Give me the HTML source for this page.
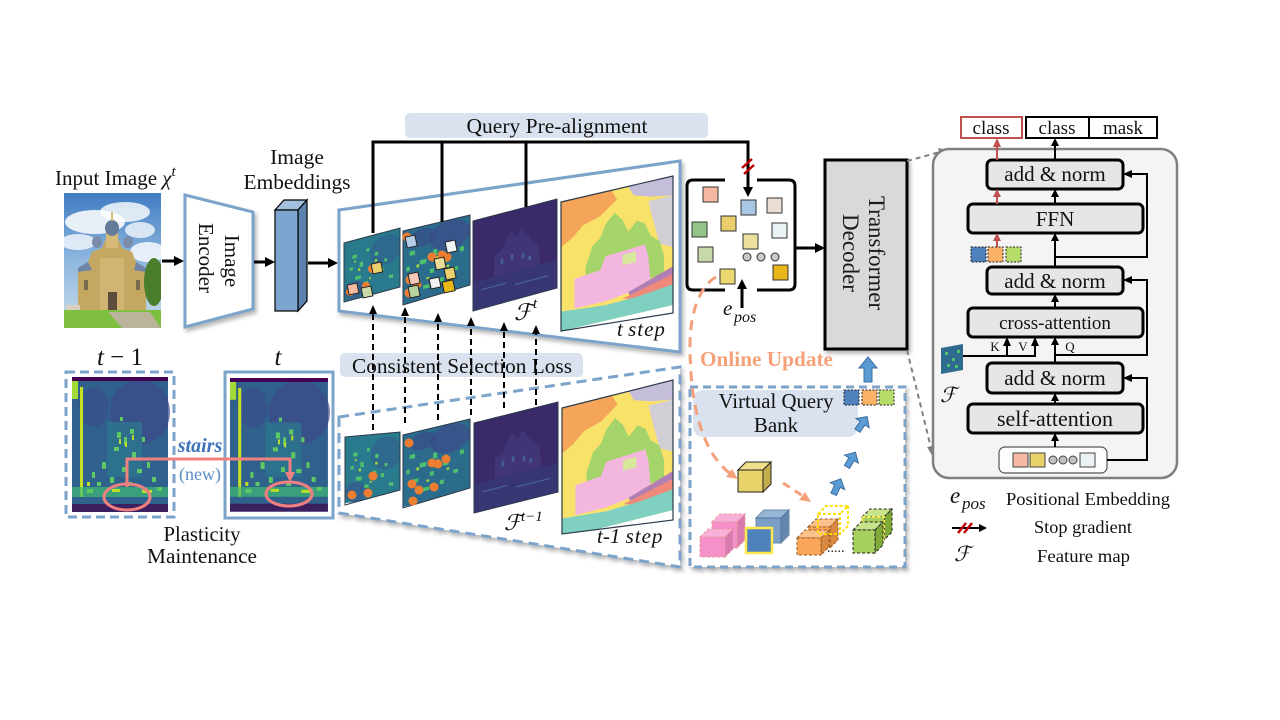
<!DOCTYPE html>
<html><head><meta charset="utf-8">
<style>
html,body{margin:0;padding:0;background:#fff;}
svg{display:block;}
text{font-family:"Liberation Serif","DejaVu Serif",serif;fill:#111;}
.it{font-style:italic;}
</style></head><body>
<svg width="1280" height="720" viewBox="0 0 1280 720" xmlns="http://www.w3.org/2000/svg">
<defs>
 <filter id="sh" x="-10%" y="-10%" width="130%" height="130%"><feDropShadow dx="2" dy="3" stdDeviation="2" flood-color="#000" flood-opacity="0.3"/></filter>
 <linearGradient id="sky" x1="0" y1="0" x2="0" y2="1">
  <stop offset="0" stop-color="#3f7cc2"/><stop offset="0.5" stop-color="#8fb7df"/><stop offset="1" stop-color="#c9dcea"/>
 </linearGradient>
 <g id="hmap">
  <rect width="96" height="135" fill="#30608c"/>
  <ellipse cx="68" cy="35" rx="30" ry="32" fill="#3d4a8a" opacity="0.7"/>
  <ellipse cx="22" cy="30" rx="15" ry="20" fill="#3a4d8b" opacity="0.6"/>
  <rect x="35" y="45" width="35" height="55" fill="#2b7a8e" opacity="0.7"/>
  <rect x="0" y="0" width="96" height="4" fill="#440154"/>
  <rect x="0" y="127" width="96" height="8" fill="#3c1f5e"/>
  <rect x="0" y="4" width="6" height="18" fill="#a2da37"/>
  <rect x="8" y="10" width="3" height="110" fill="#c5e021"/>
  <rect x="0" y="110" width="96" height="10" fill="#3fbc73" opacity="0.7"/>
  <g fill="#5ec962">
   <rect x="45" y="55" width="4" height="6"/><rect x="52" y="60" width="3" height="8"/><rect x="58" y="52" width="4" height="5"/>
   <rect x="42" y="70" width="5" height="4"/><rect x="60" y="75" width="4" height="6"/><rect x="30" y="85" width="4" height="7"/>
   <rect x="20" y="95" width="3" height="6"/><rect x="50" y="90" width="4" height="5"/><rect x="65" y="92" width="5" height="4"/>
   <rect x="75" y="85" width="3" height="6"/><rect x="38" y="100" width="4" height="6"/><rect x="55" y="105" width="5" height="4"/>
   <rect x="80" y="100" width="4" height="5"/><rect x="25" y="105" width="4" height="4"/><rect x="70" y="60" width="3" height="5"/>
   <rect x="48" y="40" width="3" height="4"/><rect x="85" y="110" width="5" height="4"/><rect x="15" y="112" width="6" height="4"/>
  </g>
  <g fill="#b8de29">
   <rect x="47" y="62" width="2" height="5"/><rect x="53" y="65" width="2" height="5"/><rect x="60" y="58" width="2" height="5"/>
   <rect x="40" y="112" width="8" height="3"/><rect x="70" y="113" width="10" height="3"/><rect x="15" y="105" width="3" height="4"/>
  </g>
 </g>
 <g id="mapA">
  <rect width="100" height="100" fill="#2a7a8e"/>
  <ellipse cx="75" cy="30" rx="28" ry="25" fill="#30648d" opacity=".8"/>
  <ellipse cx="20" cy="85" rx="20" ry="15" fill="#3a528b" opacity=".6"/>
  <g fill="#4fc26b">
   <rect x="15" y="25" width="8" height="6"/><rect x="28" y="40" width="6" height="8"/><rect x="50" y="55" width="7" height="5"/>
   <rect x="20" y="62" width="10" height="6"/><rect x="65" y="60" width="6" height="6"/><rect x="40" y="20" width="5" height="5"/>
   <rect x="80" y="75" width="8" height="5"/><rect x="10" y="45" width="6" height="5"/><rect x="55" y="30" width="6" height="6"/>
   <rect x="35" y="75" width="8" height="5"/><rect x="72" y="45" width="5" height="5"/>
  </g>
  <g fill="#b5de2b"><rect x="25" y="50" width="4" height="4"/><rect x="55" y="42" width="4" height="4"/><rect x="45" y="70" width="3" height="3"/><rect x="18" y="35" width="3" height="3"/></g>
 </g>
 <g id="mapB">
  <rect width="100" height="100" fill="#2b6c8d"/>
  <ellipse cx="70" cy="20" rx="30" ry="20" fill="#39508a" opacity=".8"/>
  <ellipse cx="30" cy="15" rx="20" ry="12" fill="#3a4a89" opacity=".6"/>
  <g fill="#4cc06c">
   <rect x="10" y="30" width="8" height="6"/><rect x="25" y="45" width="10" height="6"/><rect x="45" y="35" width="6" height="8"/>
   <rect x="60" y="50" width="8" height="6"/><rect x="15" y="65" width="8" height="5"/><rect x="40" y="60" width="6" height="6"/>
   <rect x="75" y="65" width="7" height="5"/><rect x="30" y="80" width="9" height="5"/><rect x="55" y="75" width="6" height="6"/>
   <rect x="85" y="40" width="6" height="6"/><rect x="5" y="50" width="5" height="6"/>
  </g>
  <g fill="#a8db34"><rect x="20" y="50" width="4" height="4"/><rect x="50" y="45" width="3" height="4"/><rect x="65" y="60" width="4" height="3"/><rect x="35" y="70" width="4" height="3"/></g>
 </g>
 <g id="mapC">
  <rect width="100" height="100" fill="#3a2a6a"/>
  <rect x="0" y="68" width="100" height="32" fill="#36457e" opacity=".45"/>
  <path d="M25,68 L25,45 L35,40 L40,28 L46,22 L52,30 L58,22 L64,30 L70,38 L78,45 L80,68 Z" fill="#403676"/>
  <g fill="#45608f"><rect x="33" y="50" width="3" height="6"/><rect x="45" y="48" width="3" height="6"/><rect x="58" y="50" width="3" height="6"/><rect x="66" y="55" width="3" height="5"/><rect x="10" y="78" width="30" height="1.5"/><rect x="50" y="82" width="40" height="1.5"/></g>
 </g>
 <g id="seg">
  <rect width="100" height="100" fill="#f9e26a"/>
  <polygon points="0,0 45,0 50,8 35,18 20,22 10,30 0,35" fill="#f5a55a"/>
  <polygon points="60,0 100,0 100,15 80,12 65,8" fill="#c4bedb"/>
  <polygon points="78,15 100,15 100,55 88,50 82,30" fill="#d2ced6"/>
  <polygon points="22,55 28,40 35,35 40,25 48,18 55,25 60,35 68,28 75,32 80,42 88,48 92,60 92,75 22,75" fill="#a5d46a"/>
  <polygon points="12,62 35,60 40,50 75,48 78,58 80,80 40,85 12,85" fill="#f3b6de"/>
  <rect x="55" y="52" width="12" height="8" fill="#d7e89a"/>
  <polygon points="60,82 100,70 100,77 62,86" fill="#b27fb5"/>
  <polygon points="55,86 100,76 100,85 70,89" fill="#ef8a7a"/>
  <polygon points="0,85 40,88 70,87 100,84 100,100 0,100" fill="#80d0c2"/>
 </g>
 <clipPath id="cpPhoto"><rect x="64" y="193" width="97" height="135"/></clipPath>
 <clipPath id="u1"><polygon points="344,243 400,228 400,287 344,302"/></clipPath>
 <clipPath id="u2"><polygon points="403,231 470,215 470,285 403,305"/></clipPath>
 <clipPath id="u3"><polygon points="473,221 557,199 557,288 473,311"/></clipPath>
 <clipPath id="u4"><polygon points="561,202 673,176 673,313 561,331"/></clipPath>
 <clipPath id="l1"><polygon points="345,437 400,432 400,490 345,505"/></clipPath>
 <clipPath id="l2"><polygon points="403,435 470,419 470,488 403,508"/></clipPath>
 <clipPath id="l3"><polygon points="474,423 558,402 558,492 474,513"/></clipPath>
 <clipPath id="l4"><polygon points="562,408 673,380 673,520 562,534"/></clipPath>
</defs>

<!-- Input image -->
<text x="55" y="185" font-size="21">Input Image <tspan class="it">χ</tspan><tspan class="it" font-size="15" dy="-9">t</tspan></text>
<g clip-path="url(#cpPhoto)">
 <rect x="64" y="193" width="97" height="135" fill="url(#sky)"/>
 <ellipse cx="95" cy="222" rx="30" ry="12" fill="#fff" opacity=".85"/>
 <ellipse cx="125" cy="212" rx="25" ry="10" fill="#fff" opacity=".8"/>
 <ellipse cx="78" cy="242" rx="18" ry="8" fill="#fff" opacity=".75"/>
 <ellipse cx="148" cy="252" rx="18" ry="10" fill="#fff" opacity=".8"/>
 <ellipse cx="140" cy="230" rx="15" ry="8" fill="#f4f7fa" opacity=".8"/>
 <polygon points="78,312 78,268 88,262 92,252 102,248 106,238 118,238 122,248 132,252 136,262 146,268 146,312" fill="#c4a862"/>
 <rect x="100" y="258" width="24" height="54" fill="#d1b472"/>
 <rect x="106" y="232" width="12" height="16" fill="#d6bb78"/>
 <ellipse cx="112" cy="228" rx="7" ry="8" fill="#667b98"/>
 <line x1="112" y1="212" x2="112" y2="221" stroke="#c9a94a" stroke-width="1.5"/>
 <ellipse cx="97" cy="242" rx="5" ry="6" fill="#7a8ca8"/>
 <ellipse cx="128" cy="242" rx="5" ry="6" fill="#7a8ca8"/>
 <polygon points="78,268 88,262 92,270 78,272" fill="#6d84a6"/>
 <polygon points="136,262 146,268 146,272 134,270" fill="#6d84a6"/>
 <rect x="108" y="292" width="9" height="20" fill="#5b4c3c"/>
 <rect x="84" y="280" width="4" height="10" fill="#7a6a50"/><rect x="136" y="280" width="4" height="10" fill="#7a6a50"/>
 <rect x="66" y="305" width="14" height="8" fill="#d9d0c2"/>
 <ellipse cx="154" cy="282" rx="10" ry="24" fill="#4a7d2c"/>
 <rect x="64" y="310" width="97" height="18" fill="#7fbf3f"/>
 <polygon points="108,312 150,312 161,328 122,328" fill="#b9b49a"/>
</g>
<line x1="162" y1="261" x2="175" y2="261" stroke="#000" stroke-width="3"/><polygon points="184,261 174,256 174,266" fill="#000"/>

<!-- encoder -->
<polygon points="185,195 253,212 253,309 185,327" fill="#fff" stroke="#7ba3c9" stroke-width="3" filter="url(#sh)"/>
<text transform="translate(225,261) rotate(90)" text-anchor="middle" font-size="21">Image</text>
<text transform="translate(199,258) rotate(90)" text-anchor="middle" font-size="21">Encoder</text>
<line x1="254" y1="262" x2="266" y2="262" stroke="#000" stroke-width="3"/><polygon points="275,262 265,257 265,267" fill="#000"/>

<!-- embeddings -->
<text x="297" y="164" text-anchor="middle" font-size="21.5">Image</text>
<text x="297" y="189" text-anchor="middle" font-size="21.5" textLength="107" lengthAdjust="spacingAndGlyphs">Embeddings</text>
<polygon points="275,210 284,200 307,200 298,210" fill="#a3c1de" stroke="#000" stroke-width="1.2"/>
<polygon points="298,210 307,200 307,301 298,311" fill="#5a82ab" stroke="#000" stroke-width="1.2"/>
<rect x="275" y="210" width="23" height="101" fill="#7ca5cf" stroke="#000" stroke-width="1.2"/>
<line x1="308" y1="263" x2="328" y2="263" stroke="#000" stroke-width="3"/><polygon points="338,263 328,258 328,268" fill="#000"/>

<!-- Lower panel -->
<polygon points="339,417 680,367 680,567 339,513" fill="#fff" stroke="#7ba3c9" stroke-width="3" stroke-dasharray="10,6" filter="url(#sh)"/>
<g clip-path="url(#l1)"><use href="#mapA" transform="matrix(0.55,-0.05,0,0.66,345,437)"/></g>
<polygon points="345,437 400,432 400,490 345,505" fill="none" stroke="#2b3a4a" stroke-width="1"/>
<g clip-path="url(#l2)"><use href="#mapB" transform="matrix(0.67,-0.16,0,0.72,403,435)"/></g>
<polygon points="403,435 470,419 470,488 403,508" fill="none" stroke="#2b3a4a" stroke-width="1"/>
<g clip-path="url(#l3)"><use href="#mapC" transform="matrix(0.84,-0.21,0,0.9,474,423)"/></g>
<polygon points="474,423 558,402 558,492 474,513" fill="none" stroke="#2b3a4a" stroke-width="1"/>
<g clip-path="url(#l4)"><use href="#seg" transform="matrix(1.11,-0.28,0,1.3,562,408)"/></g>
<polygon points="562,408 673,380 673,520 562,534" fill="none" stroke="#2b3a4a" stroke-width="1.2"/>
<g fill="#ed7d31">
 <circle cx="352" cy="495" r="4.5"/><circle cx="368" cy="493" r="4.5"/><circle cx="373" cy="476" r="4.5"/>
 <circle cx="409" cy="443" r="4.5"/><circle cx="432" cy="463" r="4.5"/><circle cx="438" cy="464" r="4.5"/><circle cx="446" cy="459" r="4.5"/>
 <circle cx="412" cy="484" r="4.5"/><circle cx="419" cy="490" r="4.5"/><circle cx="434" cy="487" r="4.5"/><circle cx="413" cy="501" r="4.5"/>
</g>
<text x="504" y="530" font-size="22" class="it">ℱ</text><text x="521" y="521" font-size="15" class="it">t−1</text>
<text x="597" y="543" font-size="21" class="it">t-1 <tspan letter-spacing="1">step</tspan></text>

<!-- Upper panel -->
<polygon points="339,210 680,161 680,352 339,311" fill="#fff" stroke="#7ba3c9" stroke-width="3" filter="url(#sh)"/>
<g clip-path="url(#u1)"><use href="#mapA" transform="matrix(0.56,-0.15,0,0.59,344,243)"/></g>
<polygon points="344,243 400,228 400,287 344,302" fill="none" stroke="#2b3a4a" stroke-width="1"/>
<g clip-path="url(#u2)"><use href="#mapB" transform="matrix(0.67,-0.16,0,0.74,403,231)"/></g>
<polygon points="403,231 470,215 470,285 403,305" fill="none" stroke="#2b3a4a" stroke-width="1"/>
<g clip-path="url(#u3)"><use href="#mapC" transform="matrix(0.84,-0.22,0,0.9,473,221)"/></g>
<polygon points="473,221 557,199 557,288 473,311" fill="none" stroke="#2b3a4a" stroke-width="1"/>
<g clip-path="url(#u4)"><use href="#seg" transform="matrix(1.12,-0.26,0,1.29,561,202)"/></g>
<polygon points="561,202 673,176 673,313 561,331" fill="none" stroke="#2b3a4a" stroke-width="1.2"/>
<g fill="#ed7d31">
 <circle cx="350" cy="292" r="4"/><circle cx="366" cy="286" r="4"/><circle cx="372" cy="269" r="4"/>
 <circle cx="407" cy="237" r="4.5"/><circle cx="432" cy="257" r="4.5"/><circle cx="442" cy="255" r="4.5"/><circle cx="447" cy="257" r="4.5"/>
 <circle cx="410" cy="280" r="4.5"/><circle cx="417" cy="284" r="4.5"/><circle cx="436" cy="283" r="4.5"/><circle cx="409" cy="293" r="4.5"/>
</g>
<g stroke="#222" stroke-width="1">
 <rect x="348" y="284" width="10" height="10" fill="#f4b9a0" transform="rotate(-12 353 289)"/>
 <rect x="362" y="287" width="10" height="10" fill="#c9dbab" transform="rotate(-12 367 292)"/>
 <rect x="372" y="263" width="10" height="10" fill="#ead06e" transform="rotate(-12 377 268)"/>
 <rect x="406" y="236" width="10" height="11" fill="#b5cde6" transform="rotate(-12 411 241)"/>
 <rect x="446" y="241" width="10" height="11" fill="#eef3f5" transform="rotate(-12 451 246)"/>
 <rect x="435" y="258" width="10" height="11" fill="#ebdc98" transform="rotate(-12 440 263)"/>
 <rect x="445" y="268" width="10" height="11" fill="#ead06e" transform="rotate(-12 450 273)"/>
 <rect x="409" y="273" width="10" height="11" fill="#f4c8b8" transform="rotate(-12 414 278)"/>
 <rect x="409" y="286" width="10" height="11" fill="#b8d4a0" transform="rotate(-12 414 291)"/>
 <rect x="443" y="281" width="11" height="11" fill="#e8b818" transform="rotate(-12 448 286)"/>
 <rect x="430" y="278" width="10" height="10" fill="#f0f0f0" transform="rotate(-12 435 283)"/>
</g>
<text x="514" y="320" font-size="23" class="it">ℱ</text><text x="533" y="308" font-size="15" class="it">t</text>
<text x="617" y="336" font-size="21" class="it">t <tspan letter-spacing="1">step</tspan></text>

<!-- Query pre-alignment -->
<rect x="405" y="113" width="303" height="25" rx="5" fill="#dae2ef"/>
<text x="557" y="133" text-anchor="middle" font-size="21" textLength="181" lengthAdjust="spacingAndGlyphs">Query Pre-alignment</text>
<g stroke="#000" stroke-width="3" fill="none">
 <polyline points="373,233 373,142 748,142 748,188"/>
 <line x1="442" y1="142" x2="442" y2="222"/>
 <line x1="526" y1="142" x2="526" y2="207"/>
</g>
<polygon points="748,197 743,187 753,187" fill="#000"/>
<g stroke="#c00000" stroke-width="2.5"><line x1="742" y1="168" x2="752" y2="159"/><line x1="744" y1="174" x2="754" y2="165"/></g>

<!-- Consistent selection loss -->
<rect x="340" y="353" width="243" height="24" rx="5" fill="#dae2ef"/>
<text x="462" y="373" text-anchor="middle" font-size="21" textLength="220" lengthAdjust="spacingAndGlyphs">Consistent Selection Loss</text>
<g stroke="#000" stroke-width="2" stroke-dasharray="6,4">
 <line x1="373" y1="430" x2="373" y2="313"/><line x1="405" y1="423" x2="405" y2="315"/>
 <line x1="438" y1="420" x2="438" y2="321"/><line x1="471" y1="415" x2="471" y2="325"/>
 <line x1="504" y1="408" x2="504" y2="330"/><line x1="536" y1="405" x2="536" y2="333"/>
</g>
<g fill="#000">
 <polygon points="373,305 369,314 377,314"/><polygon points="405,307 401,316 409,316"/>
 <polygon points="438,313 434,322 442,322"/><polygon points="471,317 467,326 475,326"/>
 <polygon points="504,322 500,331 508,331"/><polygon points="536,325 532,334 540,334"/>
</g>

<!-- Query bracket box -->
<path d="M725,180 L693,180 Q687,180 687,186 L687,284 Q687,290 693,290 L725,290 M757,180 L789,180 Q795,180 795,186 L795,284 Q795,290 789,290 L757,290" fill="none" stroke="#000" stroke-width="3"/>
<g stroke="#333" stroke-width="1">
 <rect x="703" y="187" width="15" height="15" fill="#f4b9a0"/>
 <rect x="741" y="200" width="15" height="15" fill="#a9c6e4"/>
 <rect x="767" y="198" width="15" height="15" fill="#ecddd3"/>
 <rect x="692" y="222" width="15" height="15" fill="#93c488"/>
 <rect x="721" y="216" width="15" height="15" fill="#ebcd6c"/>
 <rect x="772" y="223" width="15" height="15" fill="#eaf3f5"/>
 <rect x="743" y="234" width="15" height="15" fill="#ece09e"/>
 <rect x="698" y="247" width="15" height="15" fill="#c7d9a8"/>
 <rect x="720" y="269" width="15" height="15" fill="#ebd86e"/>
 <rect x="773" y="265" width="15" height="15" fill="#e8b618"/>
 <circle cx="747" cy="257" r="4" fill="#c8c8c8"/><circle cx="761" cy="257" r="4" fill="#c8c8c8"/><circle cx="775" cy="257" r="4" fill="#c8c8c8"/>
</g>
<line x1="796" y1="248" x2="816" y2="248" stroke="#000" stroke-width="3"/><polygon points="825,248 815,243 815,253" fill="#000"/>
<line x1="742" y1="308" x2="742" y2="288" stroke="#000" stroke-width="3"/><polygon points="742,279 737,289 747,289" fill="#000"/>
<text x="723" y="315" font-size="21" class="it">e</text><text x="734" y="322" font-size="16" class="it">pos</text>

<!-- Transformer decoder -->
<rect x="825" y="160" width="82" height="189" fill="#d9d9d9" stroke="#000" stroke-width="3" filter="url(#sh)"/>
<text transform="translate(869,253) rotate(90)" text-anchor="middle" font-size="23" style="fill:#1a1a1a">Transformer</text>
<text transform="translate(843,253) rotate(90)" text-anchor="middle" font-size="23" style="fill:#1a1a1a">Decoder</text>
<polygon points="868,357 877,368 872,368 872,382 864,382 864,368 859,368" fill="#5b9bd5" stroke="#3d6f9e" stroke-width="1"/>

<!-- gray dashed links -->
<g stroke="#808080" stroke-width="2" stroke-dasharray="5,4" fill="none">
 <line x1="907" y1="161" x2="940" y2="152"/>
 <line x1="907" y1="350" x2="931" y2="448"/>
</g>
<polygon points="948,150 938,148 940,156" fill="#808080"/>
<polygon points="933,457 927,447 935,446" fill="#808080"/>

<!-- Virtual query bank -->
<rect x="690" y="387" width="215" height="180" fill="#fff" stroke="#7ba3c9" stroke-width="3" stroke-dasharray="8,5" filter="url(#sh)"/>
<rect x="693" y="390" width="165" height="47" rx="10" fill="#dae2ef"/>
<text x="776" y="408" text-anchor="middle" font-size="21" textLength="115" lengthAdjust="spacingAndGlyphs">Virtual Query</text>
<text x="776" y="432" text-anchor="middle" font-size="21">Bank</text>
<g stroke="#222" stroke-width="1" stroke-dasharray="2,1.5">
 <rect x="844" y="390" width="15" height="15" fill="#4f81bd"/>
 <rect x="862" y="390" width="15" height="15" fill="#f9b266"/>
 <rect x="879" y="390" width="15" height="15" fill="#b6dd6a"/>
</g>
<g fill="#5b9bd5" stroke="#3d6f9e" stroke-width="1">
 <polygon points="0,-9 8,-1 3,-1 3,8 -3,8 -3,-1 -8,-1" transform="translate(862,424) rotate(35)"/>
 <polygon points="0,-9 8,-1 3,-1 3,8 -3,8 -3,-1 -8,-1" transform="translate(851,460) rotate(30)"/>
 <polygon points="0,-9 8,-1 3,-1 3,8 -3,8 -3,-1 -8,-1" transform="translate(837,487) rotate(25)"/>
</g>
<!-- cubes -->
<g stroke="#222" stroke-width="1">
 <polygon points="738,470 746,462 771,462 763,470" fill="#f0e08c"/><polygon points="763,470 771,462 771,484 763,492" fill="#c4ae4c"/><rect x="738" y="470" width="25" height="22" fill="#e8d26a"/>
</g>
<g stroke="#e49a9a" stroke-width="1" stroke-dasharray="3,2">
 <polygon points="712,522 720,514 745,514 737,522" fill="#f8b0d8"/><polygon points="737,522 745,514 745,540 737,548" fill="#d97ab0"/><rect x="712" y="522" width="25" height="26" fill="#f590c8"/>
 <polygon points="700,537 708,529 733,529 725,537" fill="#f8b0d8"/><polygon points="725,537 733,529 733,549 725,557" fill="#d97ab0"/><rect x="700" y="537" width="25" height="20" fill="#f590c8"/>
</g>
<g stroke="#4a6f99" stroke-width="1">
 <polygon points="756,518 764,510 789,510 781,518" fill="#7ea4cc" opacity=".8"/><polygon points="781,518 789,510 789,535 781,543" fill="#3e6a98" opacity=".8"/><rect x="756" y="518" width="25" height="25" fill="#5a86b8" opacity=".8"/>
 <rect x="746" y="528" width="26" height="25" fill="#4f81bd" stroke="#ffe94a" stroke-width="2.5"/>
</g>
<g stroke="#9a5a20" stroke-width="1" stroke-dasharray="3,2">
 <polygon points="808,527 816,519 838,519 830,527" fill="#fbc18a"/><polygon points="830,527 838,519 838,540 830,548" fill="#d98a40"/><rect x="808" y="527" width="22" height="21" fill="#f9a55a"/>
 <polygon points="797,538 805,530 829,530 821,538" fill="#fbc18a"/><polygon points="821,538 829,530 829,547 821,555" fill="#d98a40"/><rect x="797" y="538" width="24" height="17" fill="#f9a55a"/>
</g>
<g fill="none" stroke="#ffe000" stroke-width="2" stroke-dasharray="3,2">
 <rect x="818" y="514" width="22" height="20"/><polyline points="818,514 826,506 848,506 840,514"/><polyline points="848,506 848,526 840,534"/>
</g>
<text x="827" y="552" font-size="14">.....</text>
<g stroke="#222" stroke-width="1" stroke-dasharray="3,2">
 <polygon points="862,517 870,509 892,509 884,517" fill="#c7e48a"/><polygon points="884,517 892,509 892,532 884,540" fill="#7faa3a"/><rect x="862" y="517" width="22" height="23" fill="#a8d060" stroke="#ffe94a" stroke-width="2"/>
 <polygon points="853,530 861,522 883,522 875,530" fill="#c7e48a"/><polygon points="875,530 883,522 883,545 875,553" fill="#7faa3a"/><rect x="853" y="530" width="22" height="23" fill="#a8d060"/>
</g>

<!-- online update curve -->
<path d="M716,277 C700,286 690,312 690,345 C690,400 700,452 732,475" fill="none" stroke="#f4a07a" stroke-width="3" stroke-dasharray="10,7"/>
<polygon points="738,479 726,477 732,469" fill="#f4a07a"/>
<line x1="783" y1="483" x2="803" y2="496" stroke="#f4a07a" stroke-width="3" stroke-dasharray="8,6"/>
<polygon points="811,502 799,500 805,492" fill="#f4a07a"/>
<text x="700" y="366" font-size="21" font-weight="bold" style="fill:#f5a27a" textLength="133" lengthAdjust="spacingAndGlyphs">Online Update</text>

<!-- Plasticity maintenance -->
<text x="120" y="365" text-anchor="middle" font-size="25"><tspan class="it">t</tspan> − 1</text>
<text x="278" y="365" text-anchor="middle" font-size="25" class="it">t</text>
<rect x="66" y="372" width="108" height="145" fill="#fff" stroke="#7ba3c9" stroke-width="3" stroke-dasharray="9,5"/>
<use href="#hmap" transform="translate(72,377)"/>
<rect x="225" y="372" width="108" height="146" fill="#fff" stroke="#7ba3c9" stroke-width="3"/>
<use href="#hmap" transform="translate(230,378) scale(1.02,0.99)"/>
<g stroke="#f08080" stroke-width="3" fill="none">
 <polyline points="127,487 127,459 290,459 290,473"/>
 <ellipse cx="127" cy="497" rx="23" ry="13"/>
 <ellipse cx="289" cy="494" rx="23" ry="12"/>
</g>
<polygon points="290,482 285,472 295,472" fill="#f08080"/>
<text x="200" y="452" text-anchor="middle" font-size="20" font-weight="bold" class="it" style="fill:#3f72b8">stairs</text>
<text x="200" y="480" text-anchor="middle" font-size="18" style="fill:#5b8cc6">(new)</text>
<text x="202" y="541" text-anchor="middle" font-size="21" textLength="77" lengthAdjust="spacingAndGlyphs">Plasticity</text>
<text x="202" y="563" text-anchor="middle" font-size="21" textLength="110" lengthAdjust="spacingAndGlyphs">Maintenance</text>

<!-- Right detail box -->
<rect x="933" y="149" width="244" height="329" rx="16" fill="#f4f4f4" stroke="#808080" stroke-width="2.5"/>
<rect x="961" y="117" width="61" height="21" fill="#fff" stroke="#c0504d" stroke-width="2"/>
<rect x="1026" y="117" width="131" height="21" fill="#fff" stroke="#000" stroke-width="2"/>
<line x1="1089" y1="117" x2="1089" y2="138" stroke="#000" stroke-width="2"/>
<text x="991" y="134" text-anchor="middle" font-size="19">class</text>
<text x="1057" y="134" text-anchor="middle" font-size="19">class</text>
<text x="1123" y="134" text-anchor="middle" font-size="19">mask</text>

<g fill="#e6e6e6" stroke="#000" stroke-width="3">
 <rect x="987" y="160" width="136" height="29" rx="5"/>
 <rect x="968" y="204" width="175" height="29" rx="5"/>
 <rect x="987" y="267" width="136" height="27" rx="5"/>
 <rect x="968" y="308" width="175" height="29" rx="5"/>
 <rect x="987" y="363" width="136" height="30" rx="5"/>
 <rect x="968" y="404" width="175" height="29" rx="5"/>
</g>
<text x="1055" y="181" text-anchor="middle" font-size="21">add &amp; norm</text>
<text x="1055" y="226" text-anchor="middle" font-size="21">FFN</text>
<text x="1055" y="288" text-anchor="middle" font-size="21">add &amp; norm</text>
<text x="1055" y="329" text-anchor="middle" font-size="19">cross-attention</text>
<text x="1055" y="385" text-anchor="middle" font-size="21">add &amp; norm</text>
<text x="1055" y="426" text-anchor="middle" font-size="22">self-attention</text>

<rect x="999" y="447" width="108" height="26" rx="6" fill="#fdfdfd" stroke="#555" stroke-width="1.2"/>
<g stroke="#444" stroke-width="1">
 <rect x="1013" y="453" width="15" height="14" fill="#f4b9a0"/>
 <rect x="1030" y="453" width="15" height="14" fill="#e9d26a"/>
 <circle cx="1053" cy="460" r="4" fill="#c0c0c0"/><circle cx="1063" cy="460" r="4" fill="#c0c0c0"/><circle cx="1073" cy="460" r="4" fill="#c0c0c0"/>
 <rect x="1080" y="453" width="15" height="14" fill="#eaf2f4"/>
</g>

<g stroke="#000" stroke-width="2" fill="none">
 <line x1="1055" y1="447" x2="1055" y2="440"/>
 <line x1="1055" y1="404" x2="1055" y2="400"/>
 <line x1="1055" y1="363" x2="1055" y2="344"/>
 <line x1="1055" y1="308" x2="1055" y2="301"/>
 <line x1="1055" y1="267" x2="1055" y2="240"/>
 <line x1="1055" y1="204" x2="1055" y2="196"/>
 <line x1="1055" y1="160" x2="1055" y2="145"/>
 <polyline points="1107,460 1147,460 1147,378 1131,378"/>
 <polyline points="1055,355 1147,355 1147,280 1131,280"/>
 <polyline points="1055,257 1147,257 1147,174 1131,174"/>
 <polyline points="963,356 1035,356 1035,345"/>
 <line x1="1007" y1="356" x2="1007" y2="345"/>
</g>
<g fill="#000">
 <polygon points="1055,433 1051,441 1059,441"/><polygon points="1055,393 1051,401 1059,401"/>
 <polygon points="1055,337 1051,345 1059,345"/><polygon points="1055,294 1051,302 1059,302"/>
 <polygon points="1055,233 1051,241 1059,241"/><polygon points="1055,189 1051,197 1059,197"/>
 <polygon points="1055,138 1051,146 1059,146"/>
 <polygon points="1123,378 1132,374 1132,382"/><polygon points="1123,280 1132,276 1132,284"/><polygon points="1123,174 1132,170 1132,178"/>
 <polygon points="1007,337 1003,346 1011,346"/><polygon points="1035,337 1031,346 1039,346"/>
</g>
<text x="995" y="351" text-anchor="middle" font-size="13">K</text>
<text x="1023" y="351" text-anchor="middle" font-size="13">V</text>
<text x="1070" y="351" text-anchor="middle" font-size="13">Q</text>
<polygon points="941,348 963,344 963,370 941,374" fill="#2f6b8e"/>
<g fill="#4fc26b"><rect x="945" y="352" width="3" height="3"/><rect x="952" y="358" width="3" height="3"/><rect x="957" y="350" width="3" height="3"/><rect x="947" y="364" width="3" height="3"/><rect x="955" y="365" width="3" height="3"/></g>
<text x="940" y="402" font-size="21" class="it">ℱ</text>

<g stroke="#c0504d" stroke-width="2"><line x1="997" y1="160" x2="997" y2="146"/><line x1="997" y1="204" x2="997" y2="196"/><line x1="997" y1="247" x2="997" y2="240"/></g>
<g fill="#c0504d"><polygon points="997,138 993,147 1001,147"/><polygon points="997,189 993,197 1001,197"/><polygon points="997,233 993,241 1001,241"/></g>
<g stroke="#222" stroke-width="1" stroke-dasharray="2,1.5">
 <rect x="971" y="247" width="15" height="15" fill="#4f81bd"/>
 <rect x="988" y="247" width="15" height="15" fill="#f9b266"/>
 <rect x="1006" y="247" width="15" height="15" fill="#b6dd6a"/>
</g>

<!-- legend -->
<text x="950" y="503" font-size="23" class="it">e</text><text x="962" y="509" font-size="17" class="it">pos</text>
<text x="1006" y="505" font-size="18" textLength="164" lengthAdjust="spacingAndGlyphs">Positional Embedding</text>
<line x1="952" y1="528" x2="980" y2="528" stroke="#000" stroke-width="2"/><polygon points="987,528 979,524 979,532" fill="#000"/>
<g stroke="#c00000" stroke-width="2.5"><line x1="958" y1="533" x2="966" y2="523"/><line x1="964" y1="533" x2="972" y2="523"/></g>
<text x="1034" y="533" font-size="18" textLength="98" lengthAdjust="spacingAndGlyphs">Stop gradient</text>
<text x="954" y="561" font-size="21" class="it">ℱ</text>
<text x="1037" y="562" font-size="18" textLength="93" lengthAdjust="spacingAndGlyphs">Feature map</text>
</svg>
</body></html>
